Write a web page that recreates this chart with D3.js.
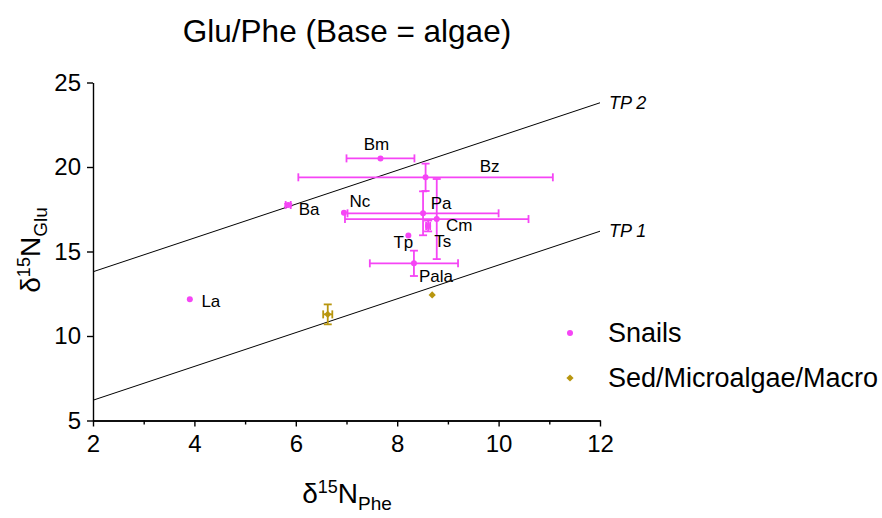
<!DOCTYPE html>
<html>
<head>
<meta charset="utf-8">
<script src="https://cdn.jsdelivr.net/npm/d3@7"></script>
<style>
  body { margin: 0; background: #fff; }
  svg { font-family: "Liberation Sans", Arial, Helvetica, sans-serif; }
  .axis path, .axis line { stroke: #000; stroke-width: 1.4; }
  .axis text { font-size: 24px; fill: #000; }
</style>
</head>
<body>
<svg id="chart" width="882" height="518"></svg>
<script>
// snails (mean, sd) - dN15 Phe vs Glu
const snailNames = ["Bm", "Bz", "Ba", "Nc", "Pa", "Cm", "Ts", "Tp", "Pala", "La"];
const snailPhe   = [7.67, 8.56, 5.85, 6.95, 8.51, 8.61, 8.78, 8.22, 8.33, 3.91];
const snailGlu   = [20.51, 19.39, 17.75, 17.30, 17.26, 16.51, 16.92, 15.94, 14.30, 12.17];
const snailPheSD = [0.67, 2.51, 0.05, 0, 1.49, 0.04, 1.81, 0, 0.87, 0];
const snailGluSD = [0, 0.81, 0.07, 0, 1.30, 0.32, 2.37, 0, 0.75, 0];

// sediment / microalgae / macroalgae
const sedPhe   = [6.63, 8.69];
const sedGlu   = [11.28, 12.43];
const sedPheSD = [0.09, 0];
const sedGluSD = [0.59, 0];

// trophic position lines: Glu = Phe + beta + tdf*(TP-1)
const tpLevels = [1, 2];
const BETA = 4.2, TDF = 7.6;

const xTicks = [2, 4, 6, 8, 10, 12];
const xMinor = [3, 5, 7, 9, 11];
const yTicks = [5, 10, 15, 20, 25];

// label offsets in px (styling only)
const labelOffset = {
  Bm: [-4, -14], Bz: [64, -11], Ba: [21, 4], Nc: [16, -11], Pa: [18, -10],
  Cm: [31, 0], Ts: [6, 22], Tp: [-5, 7], Pala: [22, 13], La: [21, 2]
};

const SNAIL = "#f545f5", SED = "#b8960f";

const svg = d3.select("#chart");
const x = d3.scaleLinear().domain([2, 12]).range([93, 600]);
const y = d3.scaleLinear().domain([5, 25]).range([420.5, 82.5]);

// title
svg.append("text")
  .attr("x", 347).attr("y", 42)
  .attr("text-anchor", "middle")
  .style("font-size", "31.5px")
  .text("Glu/Phe (Base = algae)");

// axes
svg.append("g").attr("class", "axis")
  .attr("transform", `translate(0,${y(5)})`)
  .call(d3.axisBottom(x).tickValues(xMinor).tickSize(4).tickSizeOuter(0).tickFormat(""));
svg.append("g").attr("class", "axis")
  .attr("transform", `translate(0,${y(5)})`)
  .call(d3.axisBottom(x).tickValues(xTicks).tickSize(6).tickSizeOuter(0).tickPadding(8));
svg.append("g").attr("class", "axis")
  .attr("transform", `translate(${x(2)},0)`)
  .call(d3.axisLeft(y).tickValues(yTicks).tickSize(6).tickSizeOuter(0).tickPadding(6));

// axis titles
const xt = svg.append("text")
  .attr("x", 347).attr("y", 503)
  .attr("text-anchor", "middle")
  .style("font-size", "28px");
xt.append("tspan").text("δ");
xt.append("tspan").attr("dy", -10).style("font-size", "18px").text("15");
xt.append("tspan").attr("dy", 10).text("N");
xt.append("tspan").attr("dy", 7).style("font-size", "19px").text("Phe");

const yt = svg.append("text")
  .attr("transform", "translate(40,250) rotate(-90)")
  .attr("text-anchor", "middle")
  .style("font-size", "28px");
yt.append("tspan").text("δ");
yt.append("tspan").attr("dy", -10).style("font-size", "18px").text("15");
yt.append("tspan").attr("dy", 10).text("N");
yt.append("tspan").attr("dy", 7).style("font-size", "19px").text("Glu");

// TP lines
const tpLine = d3.line().x(d => x(d[0])).y(d => y(d[1]));
tpLevels.forEach(tp => {
  const off = BETA + TDF * (tp - 1);
  svg.append("path")
    .attr("d", tpLine([[2, 2 + off], [12, 12 + off]]))
    .attr("fill", "none").attr("stroke", "#000").attr("stroke-width", 1);
  svg.append("text")
    .attr("x", x(12) + 9).attr("y", y(12 + off) + 6)
    .style("font-size", "18px").style("font-style", "italic")
    .text("TP " + tp);
});

// error bars
function errorBars(phe, glu, pheSD, gluSD, color) {
  const g = svg.append("g").attr("stroke", color).attr("stroke-width", 1.8);
  const cap = 4;
  phe.forEach((p, i) => {
    const cx = x(p), cy = y(glu[i]);
    if (pheSD[i] > 0) {
      const x0 = x(p - pheSD[i]), x1 = x(p + pheSD[i]);
      g.append("line").attr("x1", x0).attr("x2", x1).attr("y1", cy).attr("y2", cy);
      g.append("line").attr("x1", x0).attr("x2", x0).attr("y1", cy - cap).attr("y2", cy + cap);
      g.append("line").attr("x1", x1).attr("x2", x1).attr("y1", cy - cap).attr("y2", cy + cap);
    }
    if (gluSD[i] > 0) {
      const y0 = y(glu[i] - gluSD[i]), y1 = y(glu[i] + gluSD[i]);
      g.append("line").attr("x1", cx).attr("x2", cx).attr("y1", y0).attr("y2", y1);
      g.append("line").attr("x1", cx - cap).attr("x2", cx + cap).attr("y1", y0).attr("y2", y0);
      g.append("line").attr("x1", cx - cap).attr("x2", cx + cap).attr("y1", y1).attr("y2", y1);
    }
  });
}
errorBars(snailPhe, snailGlu, snailPheSD, snailGluSD, SNAIL);
errorBars(sedPhe, sedGlu, sedPheSD, sedGluSD, SED);

// points
svg.append("g").selectAll("circle")
  .data(snailPhe)
  .join("circle")
  .attr("cx", d => x(d))
  .attr("cy", (d, i) => y(snailGlu[i]))
  .attr("r", 3)
  .attr("fill", SNAIL);

const diamond = d3.symbol().type(d3.symbolSquare).size(26);
svg.append("g").selectAll("path")
  .data(sedPhe)
  .join("path")
  .attr("d", diamond)
  .attr("transform", (d, i) => `translate(${x(d)},${y(sedGlu[i])}) rotate(45)`)
  .attr("fill", SED);

// point labels
svg.append("g").selectAll("text")
  .data(snailNames)
  .join("text")
  .attr("x", (d, i) => x(snailPhe[i]) + labelOffset[d][0])
  .attr("y", (d, i) => y(snailGlu[i]) + labelOffset[d][1])
  .attr("text-anchor", "middle")
  .attr("dominant-baseline", "central")
  .style("font-size", "17px")
  .text(d => d);

// legend
const legend = svg.append("g");
legend.append("circle").attr("cx", 570).attr("cy", 333).attr("r", 3).attr("fill", SNAIL);
legend.append("text").attr("x", 608).attr("y", 342).style("font-size", "27px").text("Snails");
legend.append("path").attr("d", diamond).attr("transform", "translate(570,378) rotate(45)").attr("fill", SED);
legend.append("text").attr("x", 608).attr("y", 387).style("font-size", "27px").text("Sed/Microalgae/Macro");
</script>
</body>
</html>
